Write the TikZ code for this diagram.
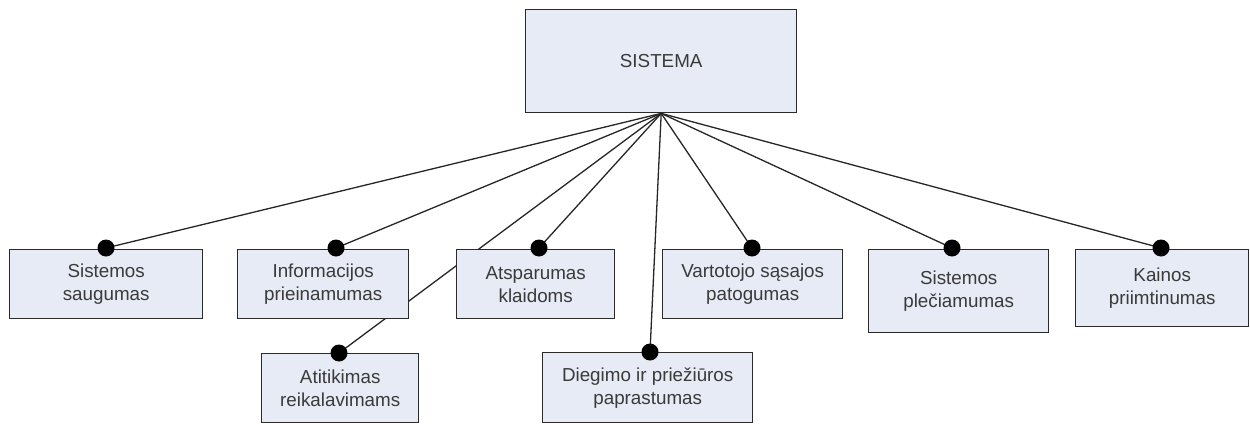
\documentclass[tikz,border=0pt]{standalone}
\usepackage{fontspec}
\setmainfont{Liberation Sans}
\definecolor{boxfill}{HTML}{E7EBF5}
\definecolor{boxline}{HTML}{2A2A2A}
\definecolor{txt}{HTML}{3A3A3A}
\begin{document}
\begin{tikzpicture}[x=1pt,y=-1pt,
  box/.style={draw=boxline,line width=1.4pt,fill=boxfill,anchor=north west,
    inner sep=0pt,align=center,text=txt,
    font=\fontsize{18.8}{23}\selectfont},
  link/.style={draw=black!85,line width=1.3pt},
  joint/.style={fill=black}]
\useasboundingbox (0,0) rectangle (1250,423);

% top node
\node[box,minimum width=271pt,minimum height=103pt] (S) at (525,9) {SISTEMA};

% attachment points on the top edges of the child boxes
\coordinate (d1) at (106,248);
\coordinate (d2) at (336,248);
\coordinate (d3) at (539,248);
\coordinate (d4) at (752,248);
\coordinate (d5) at (952,248);
\coordinate (d6) at (1161,248);
\coordinate (d7) at (339,353);
\coordinate (d8) at (650,352);

% connectors run behind the boxes
\foreach \d in {d1,d2,d3,d4,d5,d6,d7,d8}
  \draw[link] (S.south) -- (\d);

% child boxes
\node[box,minimum width=193pt,minimum height=69pt] (b1) at (9,249) {Sistemos\\saugumas};
\node[box,minimum width=171pt,minimum height=69pt] (b2) at (237,249) {Informacijos\\prieinamumas};
\node[box,minimum width=158pt,minimum height=69pt] (b3) at (456,249) {Atsparumas\\klaidoms};
\node[box,minimum width=180pt,minimum height=69pt] (b4) at (662,249) {Vartotojo sąsajos\\patogumas};
\node[box,minimum width=180pt,minimum height=83pt] (b5) at (868,249) {Sistemos\\plečiamumas};
\node[box,minimum width=173pt,minimum height=77pt] (b6) at (1075,249) {Kainos\\priimtinumas};
\node[box,minimum width=157pt,minimum height=69pt] (b7) at (261,353) {Atitikimas\\reikalavimams};
\node[box,minimum width=210pt,minimum height=70pt] (b8) at (542,352) {Diegimo ir priežiūros\\paprastumas};

% round joints on top of the boxes
\foreach \d in {d1,d2,d3,d4,d5,d6,d7,d8}
  \fill[joint] (\d) circle (8.5pt);
\end{tikzpicture}
\end{document}
